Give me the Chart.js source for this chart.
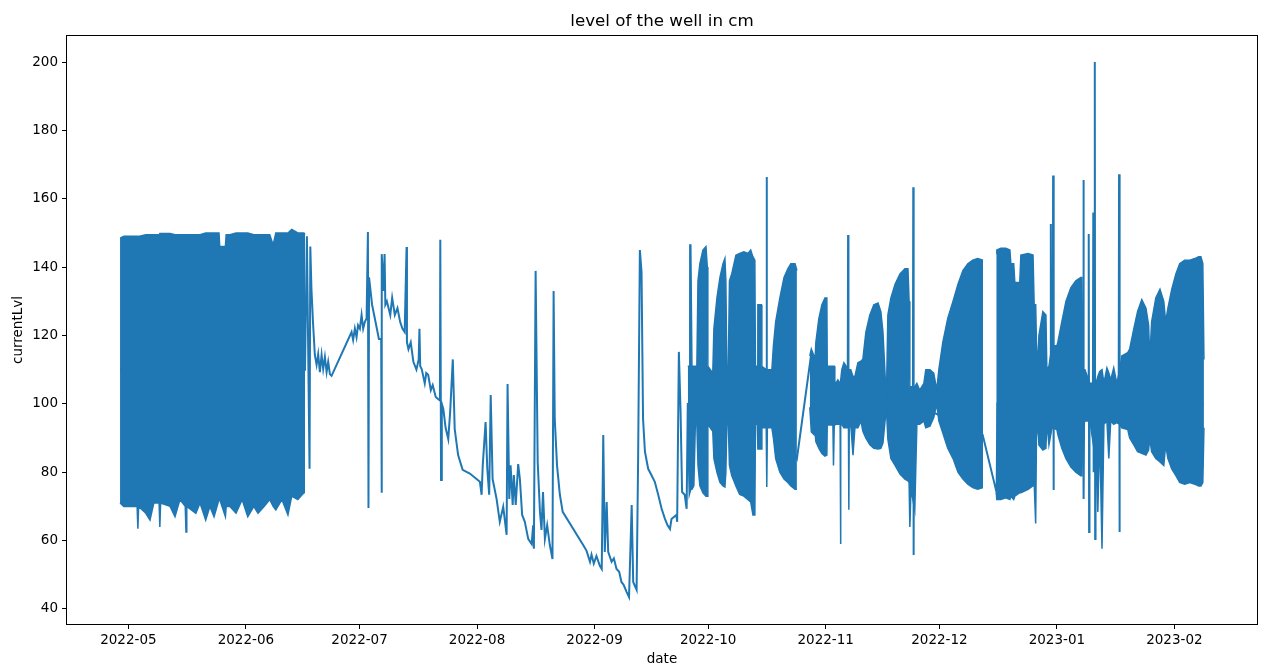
<!DOCTYPE html>
<html>
<head>
<meta charset="utf-8">
<style>
	body { margin: 0; background: #fff; }
</style>
</head>
<body>
<canvas id="myChart" width="1267" height="671"></canvas>

<script src="https://cdn.jsdelivr.net/npm/chart.js"></script>

<script>
	// x values are days counted from 2022-05-01
	const tickDays = [0, 31, 61, 92, 123, 153, 184, 214, 245, 276]
	const tickLabels = ['2022-05', '2022-06', '2022-07', '2022-08', '2022-09', '2022-10', '2022-11', '2022-12', '2023-01', '2023-02']
	const levelTicks = [40, 60, 80, 100, 120, 140, 160, 180, 200]

	// the single readings (sparse parts and spikes)
	const lineDays = [-2.2, 46.6, 47.1, 47.8, 48.0, 48.3, 48.7, 49.2, 49.66, 50.08, 50.53, 50.98, 51.4, 51.85, 52.3, 52.72, 53.17, 53.61,
		58.89, 59.3, 59.76, 60.2, 60.6, 61.08, 61.53, 61.95, 62.4, 62.85, 63.2, 63.35, 63.5, 64.3, 65.2, 66.1, 66.7, 66.8, 66.9, 67.3, 67.6, 67.8,
		68.2, 69.1, 69.6, 70.3, 71, 71.7, 72.3, 72.9, 73.4, 73.5, 73.9, 74.5, 75.2, 76, 76.6, 76.8, 77, 77.4, 78.2, 78.6, 79.1, 79.8, 80.3, 81.1, 81.7,
		82.2, 82.3, 82.5, 82.7, 83.1, 83.7, 84.4, 84.9, 85.6, 86.1, 87, 88.2, 90.1, 92.75, 93.2, 93.5, 94.25, 94.7, 95.2, 95.6, 96.1, 97.15, 98, 98.9,
		99.8, 100.05, 100.5, 100.85, 101.4, 101.7, 102.2, 102.85, 103.3, 103.9, 104.6, 105.5, 106.4, 106.8, 107, 107.45, 108, 108.6, 109, 109.4,
		109.9, 110.5, 111.2, 111.9, 112.2, 112.5, 113.1, 113.85, 114.6, 120, 120.9, 121.8, 122.2, 122.8, 123.5, 124.4, 124.9, 125.3, 125.7, 126.2,
		126.6, 127.5, 128.1, 128.8, 129.5, 130.1, 130.7, 131.45, 132.1, 132.8, 133.2, 134.1, 134.5, 134.96, 135.4, 135.8, 136.3, 137.15, 138, 138.9,
		139.8, 140.7, 141.6, 142.3, 142.9, 143.3, 144.6, 144.8, 145.25, 145.7, 146.1, 146.8, 147.3, 147.6,
		168.3, 168.4, 168.5, 176.4, 180.1, 189.8, 189.9, 190.0, 207.0, 207.1, 207.2, 207.3, 225.4, 229.1, 229.3,
		243.3, 243.4, 243.5, 243.9, 244.0, 244.1, 244.2, 251.9, 252.0, 252.1, 252.2, 253.3, 253.4, 253.5, 253.6, 254.5, 254.6, 254.7, 254.9,
		255.0, 255.1, 255.2, 261.3, 261.4, 261.5, 261.6, 283.7]
	const lineLevels = [110, 110, 149, 81, 146, 133.6, 124, 114.3, 111.4, 114.5, 109.3, 114.3, 110.2, 113.7, 109.3, 112.3, 108.7, 108.2,
		121, 118.7, 122, 119.5, 123, 122, 126, 122, 124, 125, 150.3, 69.5, 137, 129, 124, 119, 119, 74, 143.8, 133, 143.8, 129,
		130, 126, 131, 126, 128, 124, 122, 121, 145.9, 118, 116, 118, 112.3, 110, 113, 122, 111, 110.2, 106, 109, 108.5, 104, 105.5, 102, 101.4,
		101, 148, 77.7, 100, 98.5, 93, 89.7, 97.6, 113, 92.7, 85, 80.7, 79.6, 77.2, 73.4, 82, 94.7, 81, 73.4, 102.6, 78, 72.2, 65.5, 69.9,
		61.7, 105.8, 72.2, 82, 70.4, 79.2, 70.4, 82.4, 78, 67.5, 65.5, 60.5, 59, 64.5, 57.6, 138.9, 83, 68.4, 63.1, 74.2,
		60.5, 64.5, 58.7, 54.6, 133, 95.6, 82, 73.4, 68.4, 58.7, 57, 53.8, 55.9, 53.3, 55.5, 52.6, 51.7, 90.9, 56.7, 71.3,
		56.7, 53.8, 54.8, 51.7, 50.9, 47.9, 47, 45, 43.5, 70.4, 47.9, 45.6, 83.9, 145, 138.6, 95.6, 86, 81, 79.2, 77.2,
		73.4, 69.3, 66.3, 64.4, 63.4, 66.3, 67.5, 65.5, 115.2, 97.6, 74.2, 73.4, 69.3, 100,
		102, 166.4, 102, 84, 114, 102, 149.4, 102, 100, 163.4, 55.8, 100, 91, 74, 100,
		100, 152.6, 100, 100, 166.8, 74.8, 100, 100, 165.5, 72.2, 100, 100, 149.7, 62.5, 100, 100, 156, 80, 100,
		200, 60.5, 100, 100, 167.2, 62.5, 100, 100]

	// dense stretches: upper and lower edge of the swing
	const mayDays = [-2.2, -1.2, 0.9, 2.3, 2.5, 2.7, 4.6, 5.7, 6.7, 8.1, 8.3, 8.5, 11, 12.3, 13.6, 15.0, 15.2, 15.4, 17.8, 18.9, 20.4, 21.5,
		22.6, 23.9, 24.1, 25.6, 25.8, 26.8, 28.4, 30, 31.5, 33.1, 34.2, 35.8, 37.3, 38.2, 38.9, 40.5, 42.1, 43.1, 44.7, 46.3, 46.6]
	const mayHigh = [148.5, 149, 149, 149, 149, 149, 149.5, 149.5, 149.5, 149.5, 149.8, 149.8, 149.8, 149.5, 149.5, 149.5, 149.5, 149.5, 149.5, 149.5, 150, 150,
		150, 150, 146, 146, 149.5, 149.5, 150, 150, 150, 149.5, 149.5, 149.5, 149.5, 146.5, 150, 150, 150, 151, 150, 150, 149.5]
	const mayLow = [71, 70, 70, 70, 63.5, 70, 68, 66, 71, 71, 64, 71, 70, 67, 72, 70, 62.5, 70, 68, 71, 66, 70,
		67, 72, 72, 67, 70, 70, 68, 72, 67, 70, 68, 70, 72, 70, 69, 72, 67.5, 73, 72, 74, 74]

	const octDays = [147.6, 148.0, 148.15, 148.4, 148.7, 149.2, 149.6, 150.0, 150.3, 150.8, 151.6, 152.4, 152.75, 152.9, 154.2, 154.5, 155.3,
		156.1, 156.9, 157.4, 157.65, 157.9, 158.3, 158.6, 159.2, 160.3, 161.3, 162.4, 163.5, 164.2, 164.8, 165.3, 165.45, 165.95, 166.1, 167.0,
		167.15, 168.3, 168.45, 168.6, 169.8, 170.2, 170.8, 171.9, 173.0, 174.0, 174.8, 175.9, 176.4]
	const octHigh = [111, 111, 146.5, 146.5, 111, 111, 111, 111, 136, 141, 145, 146, 140, 111, 109, 122, 131, 137, 141, 142.5,
		136, 111, 111, 136, 138, 143.5, 144, 144.5, 144, 145, 143, 142, 111, 111, 129, 129, 111, 110, 110, 110, 110, 117, 124, 131, 137, 139.5, 141, 141, 139]
	const octLow = [94, 73.4, 73.4, 75, 75, 76, 94, 94, 82, 76, 74, 73, 73, 94, 92, 84, 80, 77, 76, 75.7,
		80, 94, 94, 82, 79, 76, 73.5, 73, 72, 71.3, 67.5, 67.5, 94, 94, 86.8, 86.8, 93, 93, 75.7, 93, 93, 90, 84, 80, 78, 77, 76, 75, 75]

	const novDays = [179.8, 180.2, 180.9, 181.15, 181.4, 182.2, 183.0, 183.8, 184.3, 184.4, 185.9, 186.05, 186.25, 186.4, 187.2, 187.8, 187.9,
		188.0, 188.25, 188.8, 190.0, 190.1, 190.2, 190.6, 191.2, 191.7, 192.5, 193.3, 193.8, 194.6, 195.65, 196.7, 197.8, 198.55, 199.1, 200.0,
		200.4, 201.2, 202.3, 203.6, 204.9, 205.7, 206.0, 206.2, 206.5, 207.5, 208.05, 208.8, 209.9, 210.4, 211.5, 212.5, 213.3, 213.85, 214.9,
		216.2, 217.6, 218.9, 220.2, 221.5, 222.8, 224.1, 225.5]
	const novHigh = [114, 116, 114, 112, 118, 125, 129, 131, 131, 111, 111, 111, 111, 105.5, 107, 106, 106,
		107, 110, 112, 110, 110, 110, 110, 108, 108, 112, 112.5, 113, 121, 126, 129, 129.5, 127, 121, 101,
		126, 131, 135, 138, 139.5, 139.5, 130, 105, 105, 105, 106, 104, 106, 110, 110, 109, 104, 110, 118,
		125, 130, 135, 139, 141, 142, 142.5, 142]
	const novLow = [99, 91.8, 91, 92, 89, 87, 85.5, 84.7, 85, 93.8, 93.8, 82, 93.8, 94, 94, 94, 59,
		94, 94, 93, 93, 69, 93, 94, 85, 93, 93, 95, 92, 90, 88, 87, 86.8, 87, 88.5, 99,
		89.7, 84, 82, 79.5, 78, 77.5, 77, 64, 75, 69, 94, 94, 95, 93, 93.5, 96, 100, 95, 91.5,
		87, 84, 80, 78, 76.5, 75.5, 75, 75.5]

	const decDays = [229.0, 229.15, 230.2, 231.5, 232.6, 232.85, 233.6, 233.9, 235.2, 235.5, 237.4, 238.7, 239.0, 239.4, 239.6, 240.0, 240.25,
		241.3, 242.1, 242.35, 242.9, 243.7, 245.0, 245.25, 246.3, 247.4, 248.7, 250.0, 251.3, 251.6, 251.85, 252.4, 253.7, 255.3, 255.8, 256.3,
		256.9, 257.4, 258.2, 258.7, 259.2, 260.0, 260.8, 261.6, 262.1, 263.7, 264.2, 265.3, 266.3, 267.4, 268.5, 269.2, 269.5, 270.0, 271.1,
		272.2, 273.2, 273.7, 274.3, 275.3, 276.4, 277.4, 278.7, 280.1, 281.4, 282.4, 283.0, 283.5, 283.8]
	const decHigh = [144, 145, 145.5, 145.5, 145, 141, 141, 135.5, 135.5, 143.5, 144, 143.5, 129, 129, 118, 110, 120,
		127, 126, 110, 111, 117, 117, 118, 124, 130, 134, 136, 137, 137, 110, 110, 106, 106, 108, 109.5,
		110, 106, 110.5, 109, 107, 110.5, 106, 110, 114, 115, 116, 122, 127, 130.5, 128, 123, 113, 124, 131,
		133.5, 130, 124, 128, 133.5, 138, 141, 142, 142, 142.5, 143, 143, 141, 113]
	const decLow = [74, 72, 72, 72.5, 72, 73, 72, 73, 74, 74, 75, 76, 77, 65, 90, 95, 88,
		86.5, 87, 95, 88, 93, 92.5, 91, 87, 84, 81.5, 80, 79, 79, 93.8, 95, 95, 83, 68.4, 92,
		57.6, 94, 95, 84, 95, 94, 94.5, 94, 93, 92.5, 90, 88, 86, 85.5, 85, 86.5, 90, 86, 84,
		83, 82, 88, 84, 81, 79, 77, 76.5, 77, 76.5, 76, 76, 77, 93]

	const blue = '#1f77b4'
	const pts = (xs, ys) => xs.map((x, i) => ({ x: x, y: ys[i] }))

	const datasets = []
	const bands = [[mayDays, mayHigh, mayLow], [octDays, octHigh, octLow], [novDays, novHigh, novLow], [decDays, decHigh, decLow]]
	bands.forEach(b => {
		datasets.push({ data: pts(b[0], b[1]), borderColor: blue, borderWidth: 1.5, pointRadius: 0, fill: false })
		datasets.push({ data: pts(b[0], b[2]), borderColor: blue, borderWidth: 1.5, pointRadius: 0, fill: '-1', backgroundColor: blue })
	})
	datasets.push({ data: pts(lineDays, lineLevels), borderColor: blue, borderWidth: 2, pointRadius: 0, fill: false })

	// box round the plot area
	const frame = {
		id: 'frame',
		afterDraw(chart) {
			const a = chart.chartArea
			const ctx = chart.ctx
			ctx.save()
			ctx.strokeStyle = '#000'
			ctx.lineWidth = 1
			ctx.strokeRect(Math.round(a.left) - 0.5, Math.round(a.top) - 0.5, Math.round(a.width) + 1, Math.round(a.height) + 1)
			ctx.restore()
		}
	}

	Chart.defaults.color = '#000'
	Chart.defaults.font.family = "'DejaVu Sans', sans-serif"

	const tickFont = { size: 13.5 }
	const chart = new Chart(document.getElementById('myChart'), {
		type: 'line',
		data: { datasets },
		plugins: [frame],
		options: {
			responsive: false,
			animation: false,
			devicePixelRatio: 1,
			layout: { padding: { left: 0, right: 10, top: 2, bottom: 0 } },
			elements: { line: { tension: 0 } },
			plugins: {
				legend: { display: false },
				tooltip: { enabled: false },
				title: {
					display: true,
					fullSize: false,
					text: 'level of the well in cm',
					font: { size: 16.7, weight: 'normal' },
					padding: { top: 10, bottom: 4 }
				}
			},
			scales: {
				x: {
					type: 'linear',
					min: -16.2,
					max: 297.8,
					afterFit: s => { s.height = 47 },
					afterBuildTicks: s => { s.ticks = tickDays.map(v => ({ value: v })) },
					ticks: {
						callback: (v, i) => tickLabels[i],
						font: tickFont,
						padding: 3,
						maxRotation: 0,
						autoSkip: false
					},
					grid: { drawOnChartArea: false, drawTicks: true, tickLength: 5, color: '#000' },
					border: { display: false },
					title: { display: true, text: 'date', font: tickFont, padding: { top: 0, bottom: 3 } }
				},
				y: {
					min: 35.6,
					max: 207.6,
					afterFit: s => { s.width = 67 },
					afterBuildTicks: s => { s.ticks = levelTicks.map(v => ({ value: v })) },
					ticks: { font: tickFont, padding: 4 },
					grid: { drawOnChartArea: false, drawTicks: true, tickLength: 5, color: '#000' },
					border: { display: false },
					title: { display: true, text: 'currentLvl', font: tickFont, padding: { top: 10, bottom: 0 } }
				}
			}
		}
	})
</script>
</body>
</html>
